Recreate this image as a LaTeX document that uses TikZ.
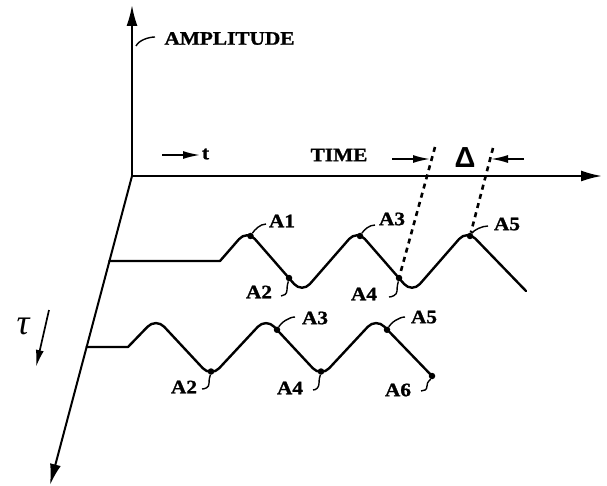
\documentclass[tikz,border=0pt]{standalone}
\usepackage{fontspec}
\setmainfont{Liberation Serif}
\newfontfamily\lblfont[FakeStretch=1.12,FakeBold=1.2]{Liberation Serif}
\newfontfamily\deltafont{Liberation Sans}
\usetikzlibrary{arrows.meta}
\begin{document}
\begin{tikzpicture}[x=1pt,y=-1pt,
  axisline/.style={line width=2pt, -{Latex[length=21pt,width=11pt]}},
  wave/.style={line width=2.4pt, line join=round, line cap=round},
  lbl/.style={font=\lblfont\bfseries\fontsize{19}{19}\selectfont, inner sep=0pt},
  leader/.style={line width=1.4pt},
  pt/.style={circle, fill, inner sep=0pt, minimum size=6.5pt},
  dots/.style={line width=2.6pt, dash pattern=on 5pt off 4.5pt},
  smallarrow/.style={line width=1.7pt, -{Latex[length=17pt,width=8pt]}}]
\useasboundingbox (0,0) rectangle (607,486);

% axes
\coordinate (O) at (132,176);
\coordinate (ampTip) at (132,5);
\coordinate (timeTip) at (602,176);
\coordinate (tauTip) at (50,485);
\draw[axisline] (O) -- (ampTip);
\draw[axisline] (O) -- (timeTip);
\draw[axisline] (O) -- (tauTip);

% axis labels
\coordinate (ampS) at (136,46);
\coordinate (ampE) at (155,37);
\draw[leader] (ampS) .. controls +(3,-6) and +(-6,0) .. (ampE);
\node[lbl] (amp) at (229.5,38.5) {AMPLITUDE};
\coordinate (tS) at (162,155);
\coordinate (tE) at (200,155);
\draw[smallarrow] (tS) -- (tE);
\node[lbl] (tlab) at (205.5,154) {t};
\node[lbl] (time) at (339,155) {TIME};
\node[font=\deltafont\bfseries\fontsize{29}{29}\selectfont, inner sep=0pt] (delta) at (465,158) {Δ};
\coordinate (dLs) at (392,159);
\coordinate (dLe) at (430,159);
\coordinate (dRs) at (524,159);
\coordinate (dRe) at (491,159);
\draw[smallarrow] (dLs) -- (dLe);
\draw[smallarrow] (dRs) -- (dRe);

\node[font=\itshape\fontsize{36}{36}\selectfont, inner sep=0pt] (tau) at (23,326) {τ};
\coordinate (tauS) at (49,310);
\coordinate (tauE) at (36,367);
\draw[smallarrow] (tauS) -- (tauE);

% upper waveform
\coordinate (b1) at (109.4,261);
\draw[wave] (b1) -- (220,261) [rounded corners=12pt] -- (247,230) -- (302,293) -- (357,230) -- (412,293) -- (467,230) -- (526,291);
% lower waveform
\coordinate (b2) at (86.6,347);
\draw[wave] (b2) -- (128,347) [rounded corners=12pt] -- (156,318) -- (211,377) -- (266,318) -- (321,377) -- (376,318) -- (432,376);

% points upper
\node[pt] (u1) at (250.5,236) {};
\node[pt] (u2) at (289,278) {};
\node[pt] (u3) at (360,236) {};
\node[pt] (u4) at (399,278) {};
\node[pt] (u5) at (470,236) {};
% points lower
\node[pt] (l2) at (211,371.5) {};
\node[pt] (l3) at (277,329.8) {};
\node[pt] (l4) at (321,371.5) {};
\node[pt] (l5) at (387,329.8) {};
\node[pt] (l6) at (432,376) {};

% dotted lines
\coordinate (dt1) at (435,147);
\coordinate (dt2) at (493,148);
\draw[dots] (dt1) -- (u4);
\draw[dots] (dt2) -- (u5);

% leaders up-right
\coordinate (eu1) at (266,224);
\coordinate (eu3) at (375,225);
\coordinate (eu5) at (488,226);
\coordinate (el3) at (295,317);
\coordinate (el5) at (405,317);
\draw[leader] (u1) .. controls +(4,-6) and +(-6,0) .. (eu1);
\draw[leader] (u3) .. controls +(4,-6) and +(-6,0) .. (eu3);
\draw[leader] (u5) .. controls +(4,-6) and +(-6,0) .. (eu5);
\draw[leader] (l3) .. controls +(4,-7) and +(-6,0) .. (el3);
\draw[leader] (l5) .. controls +(4,-7) and +(-6,0) .. (el5);
% hooks down-left
\coordinate (eu2) at (281,296);
\coordinate (eu4) at (389,297);
\coordinate (el2) at (202,389);
\coordinate (el4) at (313,390);
\coordinate (el6) at (421,391);
\draw[leader] (u2) .. controls +(-1,5) and +(0,-5) .. ++(-2,12) .. controls +(0,4) and +(3,0) .. (eu2);
\draw[leader] (u4) .. controls +(-1,5) and +(0,-5) .. ++(-2,13) .. controls +(0,4) and +(3,0) .. (eu4);
\draw[leader] (l2) .. controls +(-1,5) and +(0,-5) .. ++(-2,12) .. controls +(0,4) and +(3,0) .. (el2);
\draw[leader] (l4) .. controls +(-1,5) and +(0,-5) .. ++(-2,12) .. controls +(0,4) and +(3,0) .. (el4);
\draw[leader] (l6) .. controls +(-2,5) and +(0,-5) .. ++(-5,10) .. controls +(0,4) and +(3,0) .. (el6);

% labels
\node[lbl] (A1u) at (282,221) {A1};
\node[lbl] (A3u) at (392,219) {A3};
\node[lbl] (A5u) at (507,224) {A5};
\node[lbl] (A2u) at (259,292) {A2};
\node[lbl] (A4u) at (364,294) {A4};
\node[lbl] (A3l) at (315,318) {A3};
\node[lbl] (A5l) at (424,317) {A5};
\node[lbl] (A2l) at (184,387) {A2};
\node[lbl] (A4l) at (290,388) {A4};
\node[lbl] (A6l) at (398,390) {A6};
\end{tikzpicture}
\end{document}
